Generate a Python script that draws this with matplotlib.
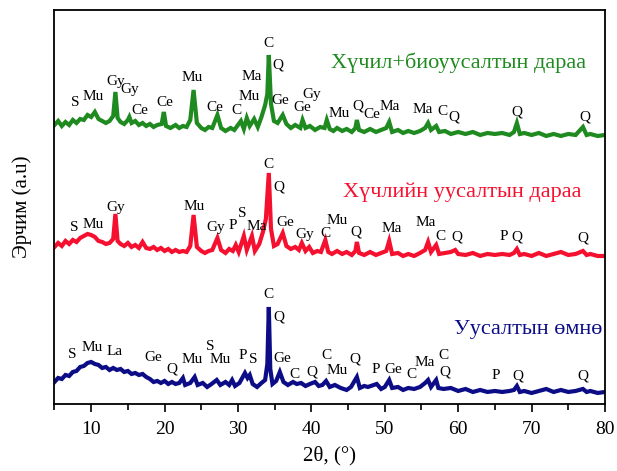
import matplotlib
matplotlib.use("Agg")
import matplotlib.pyplot as plt
from matplotlib.ticker import MultipleLocator

plt.rcParams["font.family"] = ["Liberation Serif", "DejaVu Serif"]

# --- data: 2theta (deg) and intensity (a.u.) ---
green_x = [5.0, 5.5, 6.0, 6.5, 7.0, 7.5, 8.0, 8.5, 9.0, 9.5, 10.0, 10.5, 11.0, 11.5, 12.0, 12.5,
           13.0, 13.3, 13.6, 14.0, 14.5, 15.0, 15.2, 15.5, 16.0, 16.5, 17.0, 17.5, 18.0, 18.5,
           19.0, 19.6, 19.9, 20.2, 20.8, 21.5, 22.0, 22.5, 23.0, 23.5, 23.95, 24.4, 25.0, 25.5,
           26.0, 26.5, 27.2, 27.7, 28.3, 29.0, 29.5, 30.0, 30.4, 30.8, 31.2, 31.6, 32.2, 32.7,
           33.2, 33.7, 34.0, 34.2, 34.5, 34.9, 35.4, 36.1, 36.6, 37.2, 37.8, 38.5, 38.8, 39.2,
           39.8, 40.5, 41.2, 41.8, 42.1, 42.5, 43.0, 43.5, 44.2, 44.8, 45.5, 46.0, 46.2, 46.5,
           47.2, 48.0, 48.8, 49.5, 50.2, 50.6, 51.0, 51.8, 52.5, 53.2, 54.0, 54.8, 55.5, 55.9,
           56.3, 57.0, 57.4, 58.2, 59.0, 60.0, 61.0, 62.0, 63.0, 64.0, 65.0, 66.0, 67.0, 67.6,
           68.0, 68.4, 69.0, 70.0, 71.0, 72.0, 73.0, 74.0, 75.0, 76.0, 77.0, 77.5, 78.0, 79.0, 80.0]
green_y = [279, 283, 278, 282, 279, 284, 281, 285, 284, 289, 287, 292, 285, 283, 281, 283,
           288, 312, 286, 282, 280, 284, 287, 281, 283, 279, 281, 278, 280, 277,
           279, 280, 292, 278, 276, 279, 276, 278, 277, 284, 314, 281, 276, 274,
           277, 276, 289, 276, 273, 276, 274, 279, 283, 275, 286, 278, 285, 277,
           287, 299, 310, 349, 300, 283, 281, 289, 280, 276, 279, 276, 284, 276,
           278, 274, 277, 276, 284, 275, 273, 276, 273, 275, 272, 276, 284, 274,
           272, 275, 272, 274, 276, 282, 272, 274, 271, 273, 271, 273, 276, 281,
           274, 278, 272, 273, 270, 272, 270, 272, 269, 271, 270, 271, 269, 272,
           281, 270, 271, 269, 271, 268, 270, 268, 270, 269, 277, 269, 270, 268, 269]

red_x = [5.0, 5.5, 6.0, 6.5, 7.0, 7.5, 8.0, 8.5, 9.0, 9.5, 10.0, 10.5, 11.0, 11.5, 12.0, 12.5,
         13.0, 13.3, 13.6, 14.0, 14.5, 15.0, 15.5, 16.0, 16.5, 17.0, 17.5, 18.0, 18.5, 19.0,
         19.5, 20.0, 20.5, 21.0, 21.5, 22.0, 22.5, 23.0, 23.5, 23.95, 24.4, 25.0, 25.5, 26.0,
         26.5, 27.2, 27.7, 28.3, 28.8, 29.3, 29.7, 30.1, 30.8, 31.2, 31.9, 32.3, 32.9, 33.4,
         33.8, 34.2, 34.5, 34.9, 35.4, 36.1, 36.6, 37.2, 37.8, 38.3, 38.7, 39.2, 39.7, 40.2,
         40.8, 41.3, 41.9, 42.3, 42.8, 43.5, 44.2, 44.8, 45.5, 46.0, 46.2, 46.5, 47.2, 48.0,
         48.8, 49.5, 50.2, 50.6, 51.0, 51.8, 52.5, 53.2, 54.0, 54.8, 55.5, 55.9, 56.3, 57.0,
         57.4, 58.2, 59.0, 59.6, 60.0, 61.0, 62.0, 63.0, 64.0, 65.0, 66.0, 67.0, 67.6, 68.0,
         68.4, 69.0, 70.0, 71.0, 72.0, 73.0, 74.0, 75.0, 76.0, 77.0, 77.5, 78.0, 79.0, 80.0]
red_y = [157, 161, 158, 163, 160, 164, 162, 166, 168, 170, 169, 167, 163, 162, 160, 161,
         165, 190, 163, 160, 158, 161, 157, 159, 156, 162, 156, 155, 157, 154,
         156, 153, 155, 152, 154, 152, 153, 152, 158, 189, 157, 153, 151, 153,
         154, 166, 154, 151, 155, 153, 159, 152, 168, 154, 168, 153, 160, 172,
         185, 231, 175, 158, 160, 171, 158, 155, 157, 154, 161, 153, 157, 151,
         153, 152, 164, 152, 150, 153, 150, 152, 149, 153, 162, 151, 149, 152,
         149, 151, 153, 163, 150, 151, 148, 150, 148, 151, 154, 162, 152, 159,
         150, 151, 152, 154, 150, 149, 151, 148, 150, 149, 150, 149, 151, 155,
         149, 150, 148, 151, 148, 150, 152, 149, 150, 153, 149, 150, 148, 148]

blue_x = [5.0, 5.5, 6.0, 6.5, 7.0, 7.5, 8.0, 8.5, 9.0, 9.5, 10.0, 10.5, 11.0, 11.5, 12.0, 12.5,
          13.0, 13.5, 14.0, 14.5, 15.0, 15.5, 16.0, 16.5, 17.0, 17.5, 18.0, 18.5, 19.0, 19.5,
          20.0, 20.5, 21.0, 21.5, 22.0, 22.5, 22.8, 23.5, 24.1, 24.5, 25.2, 25.8, 26.4, 27.1,
          27.6, 28.3, 28.8, 29.2, 29.6, 30.2, 30.95, 31.3, 31.6, 32.0, 32.6, 33.2, 33.7, 34.0,
          34.2, 34.4, 34.7, 35.2, 35.7, 36.2, 36.8, 37.5, 38.0, 38.6, 39.2, 39.8, 40.5, 41.0,
          41.5, 42.0, 42.5, 43.2, 44.0, 44.8, 45.4, 46.2, 46.6, 47.2, 47.7, 48.9, 49.5, 50.0,
          50.6, 51.0, 51.8, 52.5, 53.2, 54.0, 54.8, 55.5, 55.9, 56.3, 57.0, 57.3, 58.0, 59.0,
          60.0, 61.0, 62.0, 63.0, 64.0, 65.0, 66.0, 67.0, 67.6, 68.0, 68.4, 69.0, 70.0, 71.0,
          72.0, 73.0, 74.0, 75.0, 76.0, 77.0, 77.5, 78.0, 79.0, 80.0]
blue_y = [22, 26, 25, 29, 28, 32, 33, 37, 38, 41, 42, 40, 39, 36, 37, 34,
          36, 34, 35, 32, 33, 30, 31, 29, 30, 27, 25, 22, 23, 21,
          23, 20, 22, 20, 21, 26, 19, 21, 27, 19, 21, 17, 20, 24,
          19, 22, 19, 24, 18, 21, 31, 26, 29, 20, 17, 21, 24, 40,
          97, 35, 20, 23, 32, 22, 19, 22, 20, 21, 18, 20, 22, 18,
          19, 23, 17, 19, 16, 14, 17, 27, 16, 18, 17, 20, 15, 17,
          24, 16, 17, 14, 16, 15, 17, 21, 24, 17, 24, 16, 15, 16,
          13, 15, 12, 14, 12, 13, 12, 13, 14, 18, 12, 13, 11, 13,
          15, 12, 14, 12, 13, 15, 12, 13, 11, 12]

# phase labels: (text, 2theta, intensity)
green_labels = [("S", 7.8, 301), ("Mu", 10.25, 307), ("Gy", 13.4, 322), ("Gy", 15.3, 314),
                ("Ce", 16.65, 293), ("Ce", 20.05, 301), ("Mu", 23.75, 326), ("Ce", 26.9, 296),
                ("C", 29.75, 293), ("Mu", 31.5, 307), ("Ma", 31.9, 327), ("C", 34.2, 360),
                ("Q", 35.45, 339), ("Ge", 35.7, 303), ("Ge", 38.7, 296), ("Gy", 40.1, 309),
                ("Mu", 43.75, 290), ("Q", 46.4, 298), ("Ce", 48.2, 289), ("Ma", 50.7, 297),
                ("Ma", 55.2, 294), ("C", 57.9, 292), ("Q", 59.4, 287), ("Q", 68.0, 292),
                ("Q", 77.25, 287)]
red_labels = [("S", 7.65, 176), ("Mu", 10.25, 179), ("Gy", 13.4, 196), ("Mu", 24.0, 197),
              ("Gy", 26.9, 176), ("P", 29.3, 178), ("S", 30.55, 190), ("Ma", 32.6, 177),
              ("C", 34.1, 239), ("Q", 35.6, 217), ("Ge", 36.4, 181), ("Gy", 39.1, 169),
              ("C", 41.85, 170), ("Mu", 43.5, 183), ("Q", 46.1, 172), ("Ma", 51.0, 175),
              ("Ma", 55.6, 181), ("C", 57.65, 167), ("Q", 59.85, 167), ("P", 66.25, 167),
              ("Q", 68.0, 167), ("Q", 77.0, 166)]
blue_labels = [("S", 7.4, 49), ("Mu", 10.1, 56), ("La", 13.25, 52), ("Ge", 18.4, 46),
               ("Q", 21.0, 35), ("Mu", 23.75, 44), ("S", 26.2, 57), ("Mu", 27.55, 44),
               ("P", 30.7, 48), ("S", 32.05, 44), ("C", 34.1, 109), ("Q", 35.6, 87),
               ("Ge", 36.0, 45), ("C", 37.65, 29), ("Q", 40.1, 32), ("C", 42.1, 48),
               ("Mu", 43.5, 33), ("Q", 45.95, 45), ("P", 48.8, 34), ("Ge", 51.1, 34),
               ("C", 53.7, 29), ("Ma", 55.45, 41), ("C", 58.05, 48), ("Q", 58.2, 32),
               ("P", 65.15, 28), ("Q", 68.15, 28), ("Q", 77.0, 28)]

series_names = ["Хүчил+биоуусалтын дараа", "Хүчлийн уусалтын дараа", "Уусалтын өмнө"]
series_colors = ["#1f8a1f", "#f5102f", "#0c0c86"]

fig = plt.figure(figsize=(6.17, 4.71), dpi=100)
ax = fig.add_axes([0.0883, 0.1423, 0.8922, 0.8365])

traces = [(green_x, green_y, green_labels), (red_x, red_y, red_labels), (blue_x, blue_y, blue_labels)]
for (xs, ys, labels), color in zip(traces, series_colors):
    ax.plot(xs, ys, color=color, lw=3.0, solid_joinstyle="miter")
    for txt, lx, ly in labels:
        ax.text(lx, ly, txt, fontsize=11, ha="center", va="center", color="black")

ax.text(60.0, 341, series_names[0], fontsize=16, color=series_colors[0], ha="center", va="center")
ax.text(60.6, 212, series_names[1], fontsize=16, color=series_colors[1], ha="center", va="center")
ax.text(69.6, 74, series_names[2], fontsize=16, color=series_colors[2], ha="center", va="center")

ax.set_xlim(5, 80)
ax.set_ylim(0, 394)
ax.set_yticks([])
ax.xaxis.set_major_locator(MultipleLocator(10))
ax.xaxis.set_minor_locator(MultipleLocator(5))
ax.tick_params(axis="x", which="major", direction="out", length=6, width=1.2, labelsize=14, pad=6)
ax.tick_params(axis="x", which="minor", direction="out", length=4, width=1.2)
for sp in ax.spines.values():
    sp.set_linewidth(1.3)

ax.set_xlabel("2θ, (°)", fontsize=15, labelpad=6)
ax.set_ylabel("Эрчим (a.u)", fontsize=15, labelpad=16)

fig.savefig("out.png", dpi=100)
